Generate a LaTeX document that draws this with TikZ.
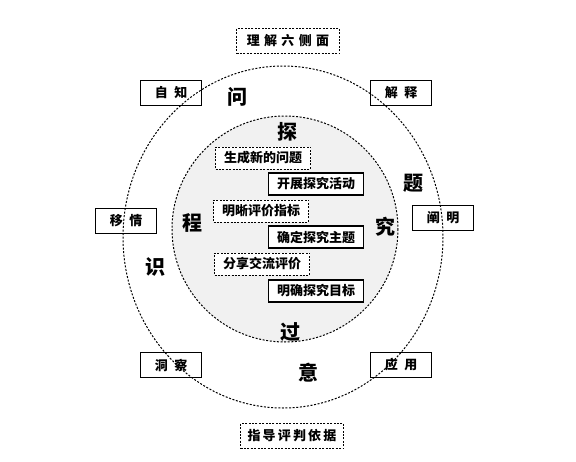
\documentclass[tikz,border=0pt]{standalone}
\usepackage{fontspec}
\setmainfont{Noto Sans CJK SC}
\usepackage{tikz}
\usetikzlibrary{positioning}

\tikzset{
  ring/.style={dash pattern=on 2pt off 1.6pt, line width=1pt},
  sbox/.style={draw, line width=1.2pt, minimum width=61pt, minimum height=25pt,
    inner sep=0pt, font=\fontsize{13}{13}\selectfont\bfseries},
  lbox/.style={draw, dash pattern=on 2pt off 1.4pt, line width=1pt, minimum width=103pt,
    minimum height=25pt, inner sep=0pt, font=\fontsize{13}{13}\selectfont\bfseries},
  ibox/.style={draw, fill=white, line width=1.2pt, minimum width=95pt, minimum height=22pt,
    inner sep=0pt, font=\fontsize{13}{13}\selectfont\bfseries},
  dbox/.style={ibox, dash pattern=on 2pt off 1.4pt, line width=1pt},
  big/.style={font=\fontsize{20}{20}\selectfont\bfseries}
}

\begin{document}
\begin{tikzpicture}[x=1pt,y=-1pt]
  \useasboundingbox (0,0) rectangle (576,461);
  % circles
  \draw[ring, fill=gray!11] (285,229) circle [radius=113];
  \draw[ring] (283,237) ellipse [x radius=160, y radius=171];

  % six facets
  \node[lbox] (facets) at (288,41) {理\,\,解\,\,六\,\,侧\,\,面};
  \node[lbox] (basis) at (292,436) {指\,导\,评\,判\,依\,据};
  \node[sbox] (selfknow) at (171,93) {自\enspace 知};
  \node[sbox] (explain) at (401,93) {解\enspace 释};
  \node[sbox] (empathy) at (126,221) {移\enspace 情};
  \node[sbox] (clarify) at (443,218) {阐\enspace 明};
  \node[sbox] (insight) at (171,365) {洞\enspace 察};
  \node[sbox] (apply) at (401,365) {应\enspace 用};

  % inquiry steps
  \node[dbox] (newq) at (263,158) {生成新的问题};
  \node[ibox] (act) at (316,184) {开展探究活动};
  \node[dbox] (index) at (261,211) {明晰评价指标};
  \node[ibox] (topic) at (316,237) {确定探究主题};
  \node[dbox] (share) at (262,264) {分享交流评价};
  \node[ibox] (goal) at (316,291) {明确探究目标};

  % ring words
  \node[big] (w1) at (287,132) {探};
  \node[big] (w2) at (385,227) {究};
  \node[big] (w3) at (290,332) {过};
  \node[big] (w4) at (192,223) {程};
  \node[big] (w5) at (237,97) {问};
  \node[big] (w6) at (413,183) {题};
  \node[big] (w7) at (308,373) {意};
  \node[big] (w8) at (155,267) {识};
\end{tikzpicture}
\end{document}
